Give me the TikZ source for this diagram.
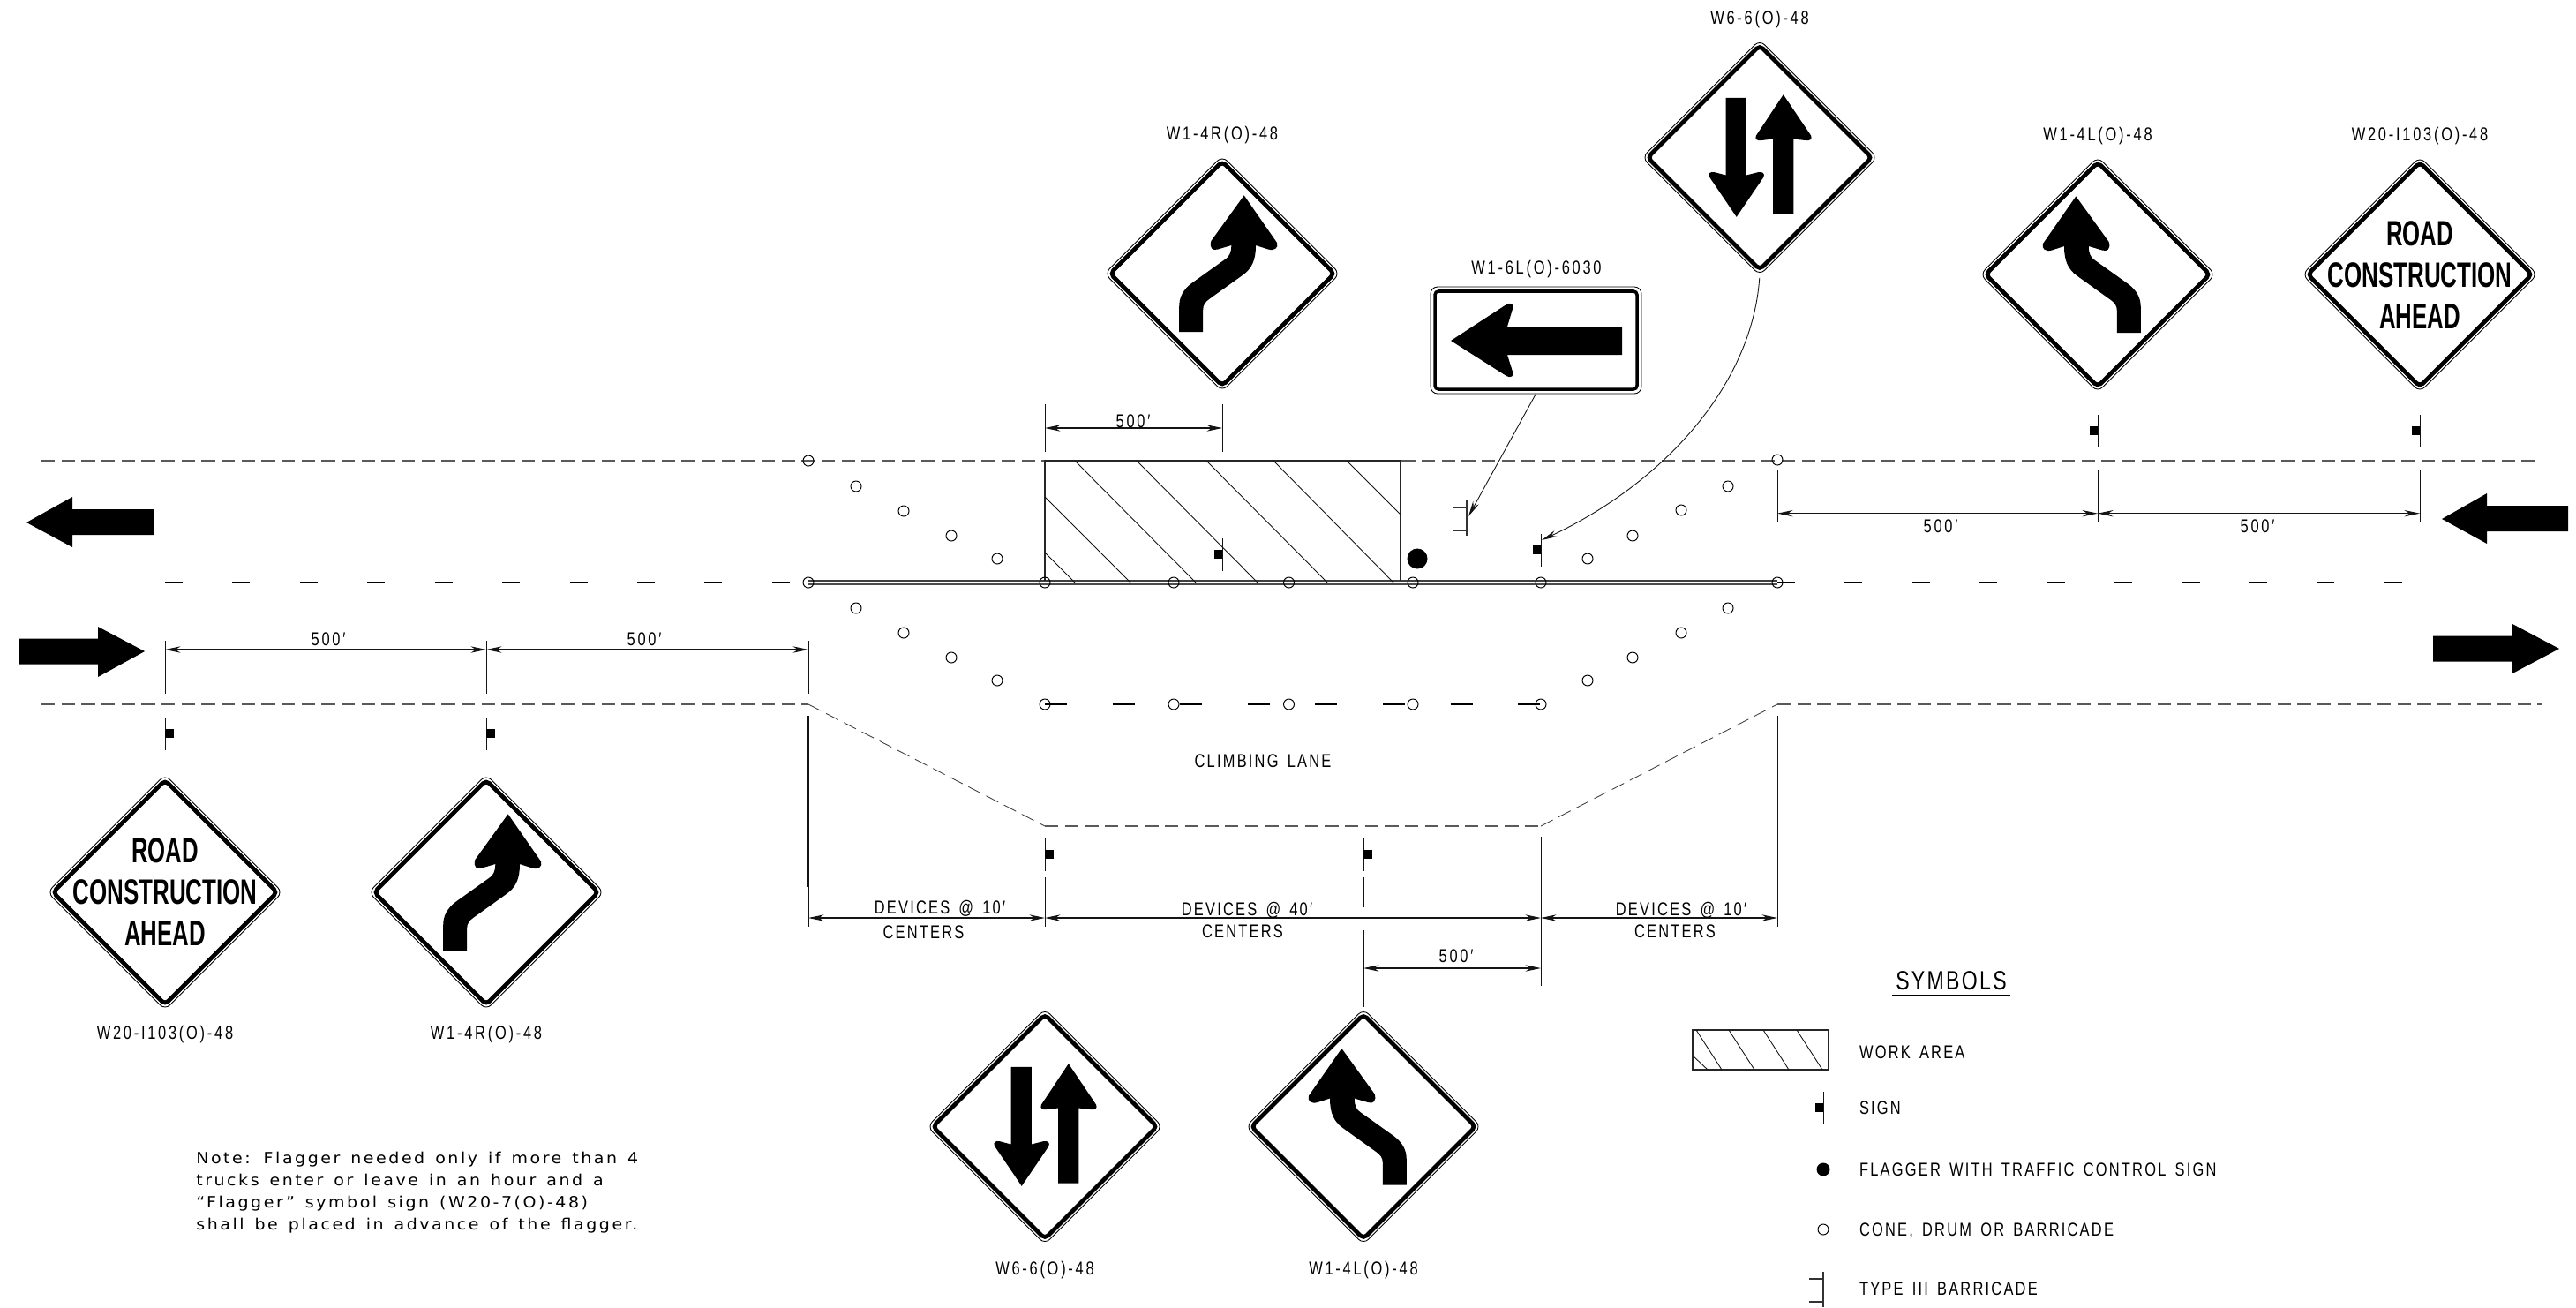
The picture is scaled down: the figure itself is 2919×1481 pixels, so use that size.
\documentclass[tikz,border=0pt]{standalone}
\usepackage{fontspec}
\usepackage{graphicx}
\usetikzlibrary{arrows.meta,shapes.geometric}
\setmainfont{Liberation Sans}
\newfontfamily\cad[FakeStretch=0.78,LetterSpace=13,WordSpace=1.8]{Liberation Sans}
\newfontfamily\cadw[FakeStretch=0.78,LetterSpace=10.5,WordSpace=1.5]{Liberation Sans}
\newfontfamily\cadb[FakeStretch=0.72]{Liberation Sans}
\newfontfamily\cads[FakeStretch=0.8,LetterSpace=8]{Liberation Sans}
\newfontfamily\notef[FakeStretch=1.08,LetterSpace=14.5,WordSpace=1.4]{DejaVu Sans}
\def\pu{0.02cm}
\definecolor{ink}{gray}{0.08}
\tikzset{
  lbl/.style={font=\cad\fontsize{12}{12}\selectfont,inner sep=0pt,outer sep=0pt,text height=8.5pt,text depth=0pt,text=black},
  wrd/.style={lbl,font=\cadw\fontsize{12}{12}\selectfont},
  lgd/.style={wrd,anchor=west},
  notel/.style={font=\notef\fontsize{10}{12}\selectfont,inner sep=0pt,anchor=west,text height=7.4pt,text depth=0pt},
  thinl/.style={line width=0.55pt,draw=ink},
  edge/.style={line width=0.65pt,draw=black!65,dash pattern=on 8.7pt off 4.2pt},
  edgefine/.style={line width=0.5pt,draw=black!75,dash pattern=on 8.7pt off 4.2pt},
  lane/.style={line width=1.1pt,draw=black,dash pattern=on 11.4pt off 32.1pt},
  dim/.style={line width=0.6pt,draw=ink,{Stealth[length=10pt,width=4.2pt]}-{Stealth[length=10pt,width=4.2pt]}},
  leader/.style={line width=0.5pt,draw=ink,-{Stealth[length=10pt,width=4.2pt]}},
  cone/.style={circle,draw=black,line width=0.55pt,inner sep=0pt,minimum size=12*\pu,outer sep=0pt},
  flag/.style={circle,fill=black,inner sep=0pt,outer sep=0pt},
  signouter/.style={diamond,aspect=1,draw=black,fill=white,line width=0.5pt,inner sep=0pt,outer sep=0pt,minimum width=266.6*\pu,minimum height=266.6*\pu,rounded corners=8*\pu},
  signinner/.style={diamond,aspect=1,draw=black,line width=2.7pt,inner sep=0pt,outer sep=0pt,minimum width=254*\pu,minimum height=254*\pu,rounded corners=5*\pu},
  signtxt/.style={inner sep=0pt,outer sep=0pt},
  bigarrow/.style={fill=black,draw=none},
  hatchl/.style={line width=0.5pt,draw=ink},
  barr/.style={line width=1.2pt,draw=black!80},
}
% diagonal warning sign: name, x, y
\newcommand\diasign[3]{%
  \node[signouter] (#1) at (#2,#3) {};
  \node[signinner] (#1i) at (#2,#3) {};}
% post symbol: x, top y, side (+1 right, -1 left)
\newcommand\post[3]{%
  \draw[thinl] (#1,#2) -- ++(0,37);
  \fill[black] (#1,#2+13) rectangle ++(#3*9.5,10);}
% Type III barricade: x, top y
\newcommand\barricade[2]{%
  \draw[barr] (#1,#2) -- ++(0,40);
  \draw[barr] (#1,#2+8) -- ++(-16,0);
  \draw[barr] (#1,#2+34) -- ++(-16,0);}
% curved arrow, right-hand form; mirror with 1 or -1
\newcommand\curvesym[3]{%
  \begin{scope}[shift={(#1,#2)},xscale=#3]
  \fill[black] (-48.8,66) -- (-21.8,66) -- (-21.8,41)
    .. controls (-21.8,35) and (-19,32) .. (-14.4,28.6)
    -- (23,1.8) .. controls (34,-6) and (38,-16) .. (38,-32)
    -- (52,-27.5) .. controls (59,-25.5) and (64,-29) .. (62,-35)
    -- (24.7,-88.6) -- (-12.6,-37) .. controls (-15,-29) and (-11,-25.5) .. (-5,-27.5)
    -- (10.3,-32) .. controls (10.3,-24) and (8,-19) .. (3,-16)
    -- (-34.4,10.7) .. controls (-44,18) and (-48.8,26) .. (-48.8,37.5) -- cycle;
  \end{scope}}
% two-way symbol
\newcommand\twoway[2]{%
  \begin{scope}[shift={(#1,#2)}]
  \fill[black] (-38.4,-67.7) -- (-15.2,-67.7) -- (-15.2,20) -- (-2,16.7)
    .. controls (3,15.5) and (6,18) .. (4.5,22) -- (-26.3,67.3) -- (-57,22)
    .. controls (-59,18) and (-56,15.5) .. (-51,16.7) -- (-38.4,20) -- cycle;
  \fill[black] (15.2,64) -- (38.4,64) -- (38.4,-21) -- (51.6,-19.5)
    .. controls (57,-18.5) and (60,-21) .. (58,-25) -- (26.8,-71.3) -- (-4,-25)
    .. controls (-6,-21) and (-3,-18.5) .. (2,-19.5) -- (15.2,-21) -- cycle;
  \end{scope}}
% sign lettering fitted to a box: name, x, y, width px, height px, text
\newcommand\fitted[6]{%
  \node[signtxt] (#1) at (#2,#3) {\resizebox{\dimexpr0.5669pt*#4\relax}{\dimexpr0.5669pt*#5\relax}{#6}};}
\begin{document}
\begin{tikzpicture}[x=0.02cm,y=-0.02cm]
\useasboundingbox (0,0) rectangle (2919,1481);

% ---- road edges
\coordinate (topL) at (47,522);
\coordinate (topR) at (2880,522);
\coordinate (botL) at (47,798);
\coordinate (tapA) at (916,798);
\coordinate (tapB) at (1184,936);
\coordinate (tapC) at (1746,936);
\coordinate (tapD) at (2014,798);
\coordinate (botR) at (2880,798);
\draw[edge] (topL) -- (topR);
\draw[edge] (botL) -- (tapA);
\draw[edgefine] (tapA) -- (tapB);
\draw[edge] (tapB) -- (tapC);
\draw[edgefine] (tapC) -- (tapD);
\draw[edge] (tapD) -- (botR);

% ---- centre line and climbing lane marking
\coordinate (cenA) at (187,660);
\coordinate (cenB) at (916,660);
\coordinate (cenC) at (2014,660);
\coordinate (cenD) at (2730,660);
\draw[lane] (cenA) -- (cenB);
\draw[lane] (cenC) -- (cenD);
\draw[line width=1.3pt,draw=black!75] (916,658) -- (2014,658);
\draw[line width=0.6pt,draw=black!70] (916,662) -- (2014,662);
\coordinate (lanA) at (1184,798);
\coordinate (lanB) at (1746,798);
\draw[line width=1.1pt,draw=black,dash pattern=on 14.2pt off 29.4pt] (lanA) -- (lanB);

% ---- work area
\coordinate (workBL) at (1184,658);
\coordinate (workTL) at (1184,522);
\coordinate (workTR) at (1587,522);
\coordinate (workBR) at (1587,658);
\draw[line width=0.6pt,draw=black!85] (workBL) -- (workTL) -- (workTR) -- (workBR);
\foreach \a/\b/\c/\d in {1218/522/1355/660,1288/522/1425/660,1367/522/1504/660,1443/522/1579/660,1526/522/1587/583,1184/563/1281/660,1184/626/1218/660}
  \draw[hatchl] (\a,\b) -- (\c,\d);

% ---- cones
\foreach \n/\x/\y in {a/916/522,b/2014/521,
  c/970/551,d/1024/579,e/1078/607,f/1130/633,
  g/970/689,h/1024/717,i/1078/745,j/1130/771,
  k/1958/551,l/1905/578,m/1850/607,n/1799/633,
  o/1958/689,p/1905/717,q/1850/745,r/1799/771,
  s/916/660,t/1184/660,u/1330/660,v/1460.5/660,w/1601/660,x/1746/660,y/2014/660,
  z/1184/798,aa/1330/798,ab/1460.5/798,ac/1601/798,ad/1746/798}
  \node[cone] (cone\n) at (\x,\y) {};

% ---- flagger, signs and barricade on the road
\node[flag,minimum size=23*\pu] (flagger) at (1606,633) {};
\barricade{1662}{567}
\post{1385}{610}{-1}
\post{1746}{605}{-1}
\post{2377}{470}{-1}
\post{2742}{470}{-1}
\post{187}{813}{1}
\post{551}{813}{1}
\post{1184}{950}{1}
\post{1545}{950}{1}

% ---- big traffic arrows
\fill[bigarrow] (30,592) -- (82,563) -- (82,577) -- (174,577) -- (174,606) -- (82,606) -- (82,620) -- cycle;
\fill[bigarrow] (164,738) -- (111,710) -- (111,723.5) -- (21,723.5) -- (21,752.5) -- (111,752.5) -- (111,767) -- cycle;
\fill[bigarrow] (2767,588) -- (2818,559) -- (2818,573) -- (2910,573) -- (2910,602) -- (2818,602) -- (2818,616) -- cycle;
\fill[bigarrow] (2900,735) -- (2847,707) -- (2847,720.5) -- (2757,720.5) -- (2757,749.5) -- (2847,749.5) -- (2847,763) -- cycle;

% ---- warning signs
\diasign{sgnA}{187}{1011}
\diasign{sgnB}{551}{1011}
\diasign{sgnC}{1385}{310}
\diasign{sgnD}{1994}{178.5}
\diasign{sgnE}{2377}{311}
\diasign{sgnF}{2742}{311}
\diasign{sgnG}{1184}{1276.5}
\diasign{sgnH}{1545}{1276.5}
\curvesym{551}{1011}{1}
\curvesym{1385}{310}{1}
\curvesym{2377}{311}{-1}
\curvesym{1545}{1276.5}{-1}
\twoway{1994}{178.5}
\twoway{1184}{1276.5}
\fitted{rdA}{187}{964}{76}{28}{\cadb\bfseries ROAD}
\fitted{coA}{187}{1011}{210}{28}{\cadb\bfseries CONSTRUCTION}
\fitted{ahA}{187}{1058}{92}{28}{\cadb\bfseries AHEAD}
\fitted{rdB}{2742}{265}{76}{28}{\cadb\bfseries ROAD}
\fitted{coB}{2742}{312}{210}{28}{\cadb\bfseries CONSTRUCTION}
\fitted{ahB}{2742}{359}{92}{28}{\cadb\bfseries AHEAD}

% ---- advisory plate
\node[rectangle,draw=black,fill=white,line width=0.5pt,rounded corners=8*\pu,minimum width=239*\pu,minimum height=121*\pu,inner sep=0pt,outer sep=0pt] (plate) at (1740.5,385.5) {};
\node[rectangle,draw=black,line width=2pt,rounded corners=4*\pu,minimum width=229*\pu,minimum height=111*\pu,inner sep=0pt,outer sep=0pt] (platei) at (1740.5,385.5) {};
\fill[black] (1644,386) -- (1707,345) .. controls (1712,342) and (1716,345) .. (1714,350) -- (1708,370) -- (1838,370) -- (1838,402) -- (1708,402) -- (1714,421) .. controls (1716,426) and (1712,429) .. (1707,426) -- cycle;

% ---- leaders
\coordinate (barrTip) at (1664,585);
\coordinate (postTip) at (1747,612);
\draw[leader] (plate.south) -- (barrTip);
\draw[leader,shorten <=3*\pu] (sgnD.south) .. controls (1985,440) and (1880,550) .. (postTip);

% ---- dimension ticks
\foreach \x/\ya/\yb in {187/726/786,551/726/786,916/726/786,
  2014/533/592,2377/533/592,2742/533/592,
  1184/458/512,1385/458/512,
  1184/994/1050,1545/994/1028,1545/1054/1141,1746/948/1117,2014/811/1050,916/1005/1050}
  \draw[thinl] (\x,\ya) -- (\x,\yb);
\draw[line width=0.8pt,draw=ink] (916,811) -- (916,1005);

% ---- dimensions
\foreach \n/\xa/\xb/\yy in {a/187/551/736,b/551/916/736,c/2014/2377/581.7,d/2377/2742/581.7,e/1184/1385/485,f/916/1184/1040,g/1184/1746/1040,h/1746/2014/1040,i/1545/1746/1097}{
  \coordinate (dim\n L) at (\xa,\yy);
  \coordinate (dim\n R) at (\xb,\yy);
  \draw[dim] (dim\n L) -- (dim\n R);}

% ---- dimension labels
\node[lbl] (lenA) at (372,724) {500′};
\node[lbl] (lenB) at (730,724) {500′};
\node[lbl] (lenC) at (2199,596) {500′};
\node[lbl] (lenD) at (2558,596) {500′};
\node[lbl] (lenE) at (1284,477) {500′};
\node[lbl] (lenF) at (1650,1083) {500′};
\node[wrd] (devA) at (1065,1028) {DEVICES @ 10′};
\node[wrd] (cntA) at (1046.5,1056) {CENTERS};
\node[wrd] (devB) at (1413,1030) {DEVICES @ 40′};
\node[wrd] (cntB) at (1408,1055) {CENTERS};
\node[wrd] (devC) at (1905,1030) {DEVICES @ 10′};
\node[wrd] (cntC) at (1898,1055) {CENTERS};
\node[wrd] (climb) at (1431,862) {CLIMBING LANE};

% ---- sign codes
\node[lbl] (codeA) at (187,1170) {W20-I103(O)-48};
\node[lbl] (codeB) at (551,1170) {W1-4R(O)-48};
\node[lbl] (codeC) at (1385,151) {W1-4R(O)-48};
\node[lbl] (codeD) at (1994,20) {W6-6(O)-48};
\node[lbl] (codeE) at (1741,303) {W1-6L(O)-6030};
\node[lbl] (codeF) at (2377,152) {W1-4L(O)-48};
\node[lbl] (codeG) at (2742,152) {W20-I103(O)-48};
\node[lbl] (codeH) at (1184,1437) {W6-6(O)-48};
\node[lbl] (codeI) at (1545,1437) {W1-4L(O)-48};

% ---- note
\node[notel] (noteA) at (222,1312) {Note: Flagger needed only if more than 4};
\node[notel] (noteB) at (222,1337) {trucks enter or leave in an hour and a};
\node[notel] (noteC) at (222,1362) {“Flagger” symbol sign (W20-7(O)-48)};
\node[notel] (noteD) at (222,1387) {shall be placed in advance of the flagger.};

% ---- legend
\fitted{symT}{2211}{1111}{126}{21}{\cads SYMBOLS}
\draw[line width=0.9pt] (2143.5,1128) -- (2278,1128);
\draw[line width=0.7pt,draw=black!85] (1918,1167) rectangle (2072,1212);
\foreach \a/\b/\c/\d in {1922/1167/1951/1212,1959/1167/1988/1212,1998/1167/2027/1212,2036/1167/2065/1212,1918/1196/1935/1212}
  \draw[hatchl] (\a,\b) -- (\c,\d);
\post{2066}{1237}{-1}
\node[flag,minimum size=15*\pu] (flagKey) at (2066,1325) {};
\node[cone] (coneKey) at (2066,1393) {};
\barricade{2066}{1441}
\node[lgd] (keyA) at (2107,1192) {WORK AREA};
\node[lgd] (keyB) at (2107,1255) {SIGN};
\node[lgd] (keyC) at (2107,1325) {FLAGGER WITH TRAFFIC CONTROL SIGN};
\node[lgd] (keyD) at (2107,1393) {CONE, DRUM OR BARRICADE};
\node[lgd] (keyE) at (2107,1460) {TYPE III BARRICADE};
\end{tikzpicture}
\end{document}
